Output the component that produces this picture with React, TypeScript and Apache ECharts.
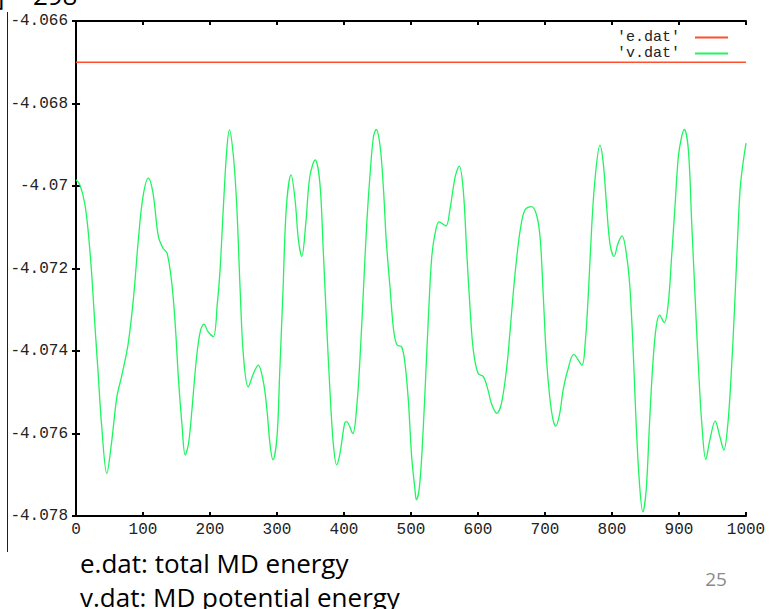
import React, { useEffect, useRef } from "react";
import * as echarts from "echarts";

const xTicks = [0, 100, 200, 300, 400, 500, 600, 700, 800, 900, 1000];
const eName = "'e.dat'";
const vName = "'v.dat'";
const eX = [0, 1000];
const eY = [-4.067, -4.067];

const vX = [
  0, 6, 13, 18, 23, 28, 33, 38, 46, 53, 61, 68, 78, 86, 93, 100, 108, 115, 123, 130,
  136, 143, 148, 153, 158, 163, 168, 173, 180, 186, 191, 197, 205, 211, 215, 220, 225, 229, 235, 240,
  245, 250, 257, 265, 272, 280, 285, 290, 294, 300, 304, 309, 314, 321, 327, 332, 337, 343, 349, 357,
  364, 369, 374, 379, 384, 389, 394, 401, 404, 413, 419, 424, 429, 434, 439, 444, 448, 454, 459, 463,
  469, 474, 479, 486, 491, 496, 501, 506, 508, 512, 516, 521, 526, 531, 536, 542, 552, 558, 566, 572,
  578, 583, 588, 593, 600, 608, 615, 620, 628, 635, 643, 648, 653, 658, 663, 670, 680, 688, 693, 697,
  702, 707, 712, 716, 722, 727, 734, 743, 755, 760, 765, 770, 775, 782, 787, 792, 797, 803, 809, 815,
  822, 827, 832, 836, 841, 846, 851, 856, 861, 866, 871, 878, 884, 889, 894, 899, 904, 908, 914, 919,
  924, 929, 934, 940, 946, 954, 961, 967, 973, 978, 983, 988, 992, 1000,
];
const vY = [
  -4.06985, -4.06998, -4.07042, -4.07107, -4.07204, -4.07332, -4.07453, -4.07575, -4.07697, -4.07623,
  -4.07511, -4.07462, -4.07381, -4.07268, -4.07131, -4.07026, -4.06981, -4.07018, -4.07123, -4.07151,
  -4.07163, -4.07236, -4.07333, -4.0747, -4.07575, -4.07652, -4.07624, -4.07543, -4.07414, -4.07349,
  -4.07335, -4.07353, -4.07365, -4.07284, -4.07204, -4.0705, -4.06913, -4.06864, -4.06929, -4.0705,
  -4.07252, -4.07414, -4.07487, -4.07454, -4.07434, -4.07478, -4.07543, -4.07632, -4.07664, -4.07608,
  -4.07454, -4.07252, -4.0705, -4.06973, -4.07034, -4.07131, -4.07171, -4.0709, -4.06977, -4.06937,
  -4.06993, -4.07155, -4.07333, -4.07495, -4.07624, -4.07676, -4.07648, -4.07575, -4.07571, -4.076,
  -4.07535, -4.07414, -4.07252, -4.0709, -4.06969, -4.0688, -4.06863, -4.06905, -4.0701, -4.07131,
  -4.07252, -4.07349, -4.07385, -4.0739, -4.0743, -4.07519, -4.07656, -4.07737, -4.07761, -4.07737,
  -4.07656, -4.07495, -4.07317, -4.07171, -4.07115, -4.07087, -4.07097, -4.07058, -4.06977, -4.06952,
  -4.0701, -4.07155, -4.07293, -4.07398, -4.07454, -4.07462, -4.07495, -4.07527, -4.07551, -4.07527,
  -4.07438, -4.07349, -4.07252, -4.07171, -4.07107, -4.07058, -4.0705, -4.07074, -4.07131, -4.07252,
  -4.07414, -4.07511, -4.07567, -4.07582, -4.07551, -4.07495, -4.07446, -4.07408, -4.07434, -4.07381,
  -4.07252, -4.0709, -4.06977, -4.06901, -4.06945, -4.0705, -4.0714, -4.07171, -4.07139, -4.07121,
  -4.07171, -4.07252, -4.07414, -4.07575, -4.07721, -4.0779, -4.07737, -4.07575, -4.0743, -4.07341,
  -4.07313, -4.07331, -4.07284, -4.07171, -4.0705, -4.06929, -4.0688, -4.06863, -4.06913, -4.0709,
  -4.07268, -4.07438, -4.07575, -4.07663, -4.07616, -4.0757, -4.07608, -4.0764, -4.07575, -4.07454,
  -4.07293, -4.07107, -4.06993, -4.06896,
];

const yMin = -4.078;
const yMax = -4.066;
const yStep = 0.002;

const topText = "] = 298";
const noteLines = ["e.dat: total MD energy", "v.dat: MD potential energy"];
const pageNumber = "25";

const MONO = "'Liberation Mono', 'DejaVu Sans Mono', monospace";
const SANS = "'Open Sans', 'Noto Sans', sans-serif";

export default function App() {
  const ref = useRef<HTMLDivElement>(null);
  useEffect(() => {
    if (!ref.current) return;
    const chart = echarts.init(ref.current, undefined, { renderer: "svg" });
    const axisLine = { show: true, lineStyle: { color: "#000", width: 2 } };
    const axisTick = { show: true, inside: true, length: 4, lineStyle: { color: "#000", width: 2 } };
    chart.setOption({
      animation: false,
      backgroundColor: "#fff",
      grid: { left: 76, top: 21, right: 25, bottom: 93, containLabel: false },
      legend: {
        orient: "vertical",
        right: 38,
        top: 25,
        align: "right",
        itemWidth: 33,
        itemHeight: 2,
        itemGap: 1,
        icon: "rect",
        textStyle: { fontFamily: MONO, fontSize: 15, color: "#222", lineHeight: 15, padding: [0, 10, 0, 0] },
        data: [eName, vName],
      },
      xAxis: [
        {
          type: "value",
          min: xTicks[0],
          max: xTicks[xTicks.length - 1],
          interval: 100,
          axisLine,
          axisTick,
          splitLine: { show: false },
          axisLabel: {
            margin: 6,
            fontFamily: MONO,
            fontSize: 16,
            color: "#222",
            formatter: (v: number) => String(Math.round(v)),
          },
        },
        {
          type: "value",
          position: "top",
          min: xTicks[0],
          max: xTicks[xTicks.length - 1],
          interval: 100,
          axisLine,
          axisTick,
          splitLine: { show: false },
          axisLabel: { show: false },
        },
      ],
      yAxis: [
        {
          type: "value",
          min: yMin,
          max: yMax,
          interval: yStep,
          axisLine,
          axisTick,
          splitLine: { show: false },
          axisLabel: {
            margin: 8,
            fontFamily: MONO,
            fontSize: 16,
            color: "#222",
            formatter: (v: number) => String(parseFloat(v.toFixed(3))),
          },
        },
        {
          type: "value",
          position: "right",
          min: yMin,
          max: yMax,
          interval: yStep,
          axisLine,
          axisTick,
          splitLine: { show: false },
          axisLabel: { show: false },
        },
      ],
      series: [
        {
          name: eName,
          type: "line",
          data: eX.map((x, i) => [x, eY[i]]),
          showSymbol: false,
          symbol: "none",
          lineStyle: { color: "#ff4f2e", width: 1.3 },
          itemStyle: { color: "#ff4f2e" },
        },
        {
          name: vName,
          type: "line",
          data: vX.map((x, i) => [x, vY[i]]),
          showSymbol: false,
          symbol: "none",
          smooth: 0.35,
          lineStyle: { color: "#1ff55f", width: 1.3 },
          itemStyle: { color: "#1ff55f" },
        },
      ],
      graphic: [
        {
          type: "line",
          shape: { x1: 7.5, y1: 12, x2: 7.5, y2: 552 },
          style: { stroke: "#1a1a3a", lineWidth: 1 },
        },
        {
          type: "text",
          x: -4,
          y: 8,
          style: { text: topText, font: `26px ${SANS}`, fill: "#000", verticalAlign: "bottom", align: "left" },
        },
        {
          type: "text",
          x: 80,
          y: 563,
          style: { text: noteLines[0], font: `26px ${SANS}`, fill: "#000", verticalAlign: "middle", align: "left" },
        },
        {
          type: "text",
          x: 80,
          y: 597,
          style: { text: noteLines[1], font: `26px ${SANS}`, fill: "#000", verticalAlign: "middle", align: "left" },
        },
        {
          type: "text",
          x: 716,
          y: 579,
          style: { text: pageNumber, font: `19px ${SANS}`, fill: "#8a8a8a", verticalAlign: "middle", align: "center" },
        },
      ],
    });
    return () => chart.dispose();
  }, []);
  return (
    <div
      ref={ref}
      style={{ position: "fixed", left: 0, top: 0, width: 771, height: 609, background: "#fff" }}
    />
  );
}
